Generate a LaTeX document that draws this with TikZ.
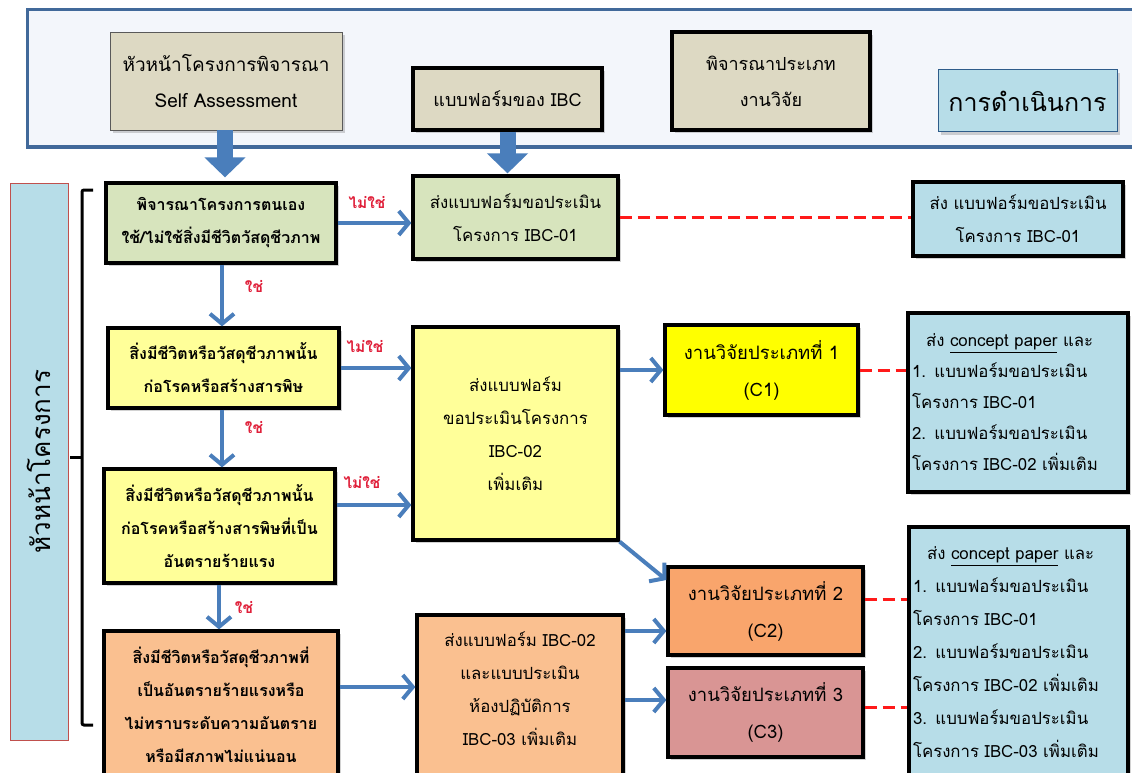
\documentclass[tikz,border=0pt]{standalone}
\usepackage{fontspec}
\setmainfont{Loma}[Script=Thai]
\usetikzlibrary{arrows.meta,shadows,calc}
\definecolor{bandblue}{HTML}{41699A}
\definecolor{bandfill}{HTML}{F3F6FB}
\definecolor{tan}{HTML}{DDD9C3}
\definecolor{greenbox}{HTML}{D7E4BD}
\definecolor{paleyellow}{HTML}{FFFF99}
\definecolor{brightyellow}{HTML}{FFFF00}
\definecolor{paleorange}{HTML}{FAC090}
\definecolor{orangec}{HTML}{F9A56C}
\definecolor{rosec}{HTML}{D99594}
\definecolor{lightblue}{HTML}{B7DDE8}
\definecolor{arrowblue}{HTML}{4A7EBB}
\definecolor{dashred}{HTML}{FF1A1A}
\definecolor{labelred}{HTML}{E0203A}
\definecolor{sidered}{HTML}{C0504D}
\definecolor{actborder}{HTML}{2E5C8A}
\begin{document}
\begin{tikzpicture}[x=1pt,y=-1pt,
  box/.style={draw=black, line width=3.2pt, align=center, inner sep=2pt,
    font=\fontsize{16.8pt}{33pt}\selectfont,
    drop shadow={shadow xshift=3pt,shadow yshift=-3pt,opacity=0.35}},
  boldtext/.style={font=\fontsize{16pt}{33pt}\selectfont\bfseries},
  ctext/.style={font=\fontsize{18.5pt}{37pt}\selectfont},
  link/.style={draw=arrowblue, line width=4pt, -{Straight Barb[length=10pt,width=24pt]}},
  fat/.style={draw=arrowblue, line width=16pt, -{Triangle[length=20pt,width=40pt]}},
  dashlink/.style={draw=dashred, line width=3pt, dash pattern=on 12pt off 6pt},
  yesno/.style={text=labelred, font=\fontsize{15.5pt}{18pt}\selectfont\bfseries},
]
\clip (0,0) rectangle (1132,773);
\fill[white] (0,0) rectangle (1132,773);

% header band
\node[draw=bandblue, line width=3pt, fill=bandfill, minimum width=1113pt, minimum height=137pt] (band) at (583.5,78.5) {};
\node[box, draw=black!65, line width=0.8pt, fill=tan, minimum width=232pt, minimum height=98pt, font=\fontsize{19pt}{36pt}\selectfont] (hSA) at (226,81) {หัวหน้าโครงการพิจารณา\\Self Assessment};
\node[box, fill=tan, minimum width=189pt, minimum height=62pt, font=\fontsize{18pt}{36pt}\selectfont] (hIBC) at (507.5,99) {แบบฟอร์มของ IBC};
\node[box, fill=tan, minimum width=198pt, minimum height=98pt, font=\fontsize{18pt}{36pt}\selectfont] (hType) at (771,81) {พิจารณาประเภท\\งานวิจัย};
\node[box, draw=actborder, line width=1pt, fill=lightblue, minimum width=179pt, minimum height=62pt, font=\fontsize{25pt}{30pt}\selectfont] (hAct) at (1027.5,101) {การดำเนินการ};

% side label and bracket
\node[draw=sidered, line width=0.8pt, fill=lightblue, rotate=90, minimum width=557pt, minimum height=58pt, inner sep=0pt, font=\fontsize{26pt}{30pt}\selectfont] (side) at (39,461.5) {หัวหน้าโครงการ};
\draw[line width=3pt, rounded corners=2pt] (93,190) -- (82,190) -- (82,725) -- (93,725);
\draw[line width=3pt] (82,457) -- (70,457);

% left column
\node[box, boldtext, fill=greenbox, minimum width=230pt, minimum height=80pt] (q1) at (221,223) {พิจารณาโครงการตนเอง\\ใช้/ไม่ใช้สิ่งมีชีวิตวัสดุชีวภาพ};
\node[box, boldtext, fill=paleyellow, minimum width=231pt, minimum height=80pt] (q2) at (223.5,368) {สิ่งมีชีวิตหรือวัสดุชีวภาพนั้น\\ก่อโรคหรือสร้างสารพิษ};
\node[box, boldtext, fill=paleyellow, minimum width=231pt, minimum height=114pt] (q3) at (219.5,526) {สิ่งมีชีวิตหรือวัสดุชีวภาพนั้น\\ก่อโรคหรือสร้างสารพิษที่เป็น\\อันตรายร้ายแรง};
\node[box, boldtext, fill=paleorange, minimum width=234pt, minimum height=148pt] (q4) at (221,705) {สิ่งมีชีวิตหรือวัสดุชีวภาพที่\\เป็นอันตรายร้ายแรงหรือ\\ไม่ทราบระดับความอันตราย\\หรือมีสภาพไม่แน่นอน};

% middle column
\node[box, fill=greenbox, minimum width=205pt, minimum height=83pt] (ibc01) at (515.5,217.5) {ส่งแบบฟอร์มขอประเมิน\\โครงการ IBC-01};
\node[box, fill=paleyellow, minimum width=205pt, minimum height=213pt] (ibc02) at (515.5,433.5) {ส่งแบบฟอร์ม\\ขอประเมินโครงการ\\IBC-02\\เพิ่มเติม};
\node[box, fill=paleorange, minimum width=206pt, minimum height=180pt] (ibc03) at (520,705) {ส่งแบบฟอร์ม IBC-02\\และแบบประเมิน\\ห้องปฏิบัติการ\\IBC-03 เพิ่มเติม\\[0pt]};

% research types
\node[box, ctext, fill=brightyellow, minimum width=193pt, minimum height=90pt] (c1) at (761.5,370) {งานวิจัยประเภทที่ 1\\(C1)};
\node[box, ctext, fill=orangec, minimum width=195pt, minimum height=88pt] (c2) at (765.5,611) {งานวิจัยประเภทที่ 2\\(C2)};
\node[box, ctext, fill=rosec, minimum width=195pt, minimum height=89pt] (c3) at (765.5,712.5) {งานวิจัยประเภทที่ 3\\(C3)};

% actions
\node[box, fill=lightblue, minimum width=210pt, minimum height=74pt] (res1) at (1018,219) {ส่ง แบบฟอร์มขอประเมิน\\โครงการ IBC-01};
\node[box, fill=lightblue, minimum width=220pt, minimum height=179pt, text width=212pt, align=left, inner xsep=3pt, font=\fontsize{16.8pt}{31pt}\selectfont] (res2) at (1018,402.5) {\hspace*{14pt}ส่ง \underline{concept paper} และ\\1. แบบฟอร์มขอประเมิน\\โครงการ IBC-01\\2. แบบฟอร์มขอประเมิน\\โครงการ IBC-02 เพิ่มเติม};
\node[box, fill=lightblue, minimum width=219pt, minimum height=251pt, text width=211pt, align=left, inner xsep=3pt] (res3) at (1018.5,652.5) {\hspace*{14pt}ส่ง \underline{concept paper} และ\\1. แบบฟอร์มขอประเมิน\\โครงการ IBC-01\\2. แบบฟอร์มขอประเมิน\\โครงการ IBC-02 เพิ่มเติม\\3. แบบฟอร์มขอประเมิน\\โครงการ IBC-03 เพิ่มเติม};

% fat arrows
\draw[fat] (hSA.south -| 225,0) -- ($(q1.north -| 225,0)+(0,-4)$);
\draw[fat] (hIBC.south) -- ($(hIBC.south |- ibc01.north)+(0,-1)$);

% flow arrows
\coordinate (q3o) at ($(q3.east)+(0,-21)$);
\coordinate (q4o) at ($(q4.east)+(0,-18)$);
\coordinate (c2d) at ($(c2.west)+(0,-31)$);
\coordinate (c2i) at ($(c2.west)+(0,20)$);
\coordinate (c3i) at ($(c3.west)+(0,-12.5)$);
\draw[link] (q1.east) -- (q1.east -| ibc01.west);
\draw[link] (q2.east) -- (q2.east -| ibc02.west);
\draw[link] (q3o) -- (q3o -| ibc02.west);
\draw[link] (q4o) -- (q4o -| ibc03.west);
\draw[link] (q1.south -| 222,0) -- (q2.north -| 222,0);
\draw[link] (q2.south -| 222,0) -- (q3.north -| 222,0);
\draw[link] (q3.south -| 219,0) -- (q4.north -| 219,0);
\draw[link] (c1.west -| ibc02.east) -- (c1.west);
\draw[link] (ibc02.south east) -- (c2d);
\draw[link] (c2i -| ibc03.east) -- (c2i);
\draw[link] (c3i -| ibc03.east) -- (c3i);

% yes / no labels
\node[yesno] (n1) at (367,203) {ไม่ใช่};
\node[yesno] (n2) at (365,347) {ไม่ใช่};
\node[yesno] (n3) at (362,483) {ไม่ใช่};
\node[yesno] (y1) at (254,287) {ใช่};
\node[yesno] (y2) at (254,428) {ใช่};
\node[yesno] (y3) at (244,608) {ใช่};

% dashed links
\coordinate (c2o) at ($(c2.east)+(0,-12)$);
\coordinate (c3o) at ($(c3.east)+(0,-5.5)$);
\draw[dashlink] (ibc01.east) -- (ibc01.east -| res1.west);
\draw[dashlink] (c1.east) -- (c1.east -| res2.west);
\draw[dashlink] (c2o) -- (c2o -| res3.west);
\draw[dashlink] (c3o) -- (c3o -| res3.west);
\end{tikzpicture}
\end{document}
